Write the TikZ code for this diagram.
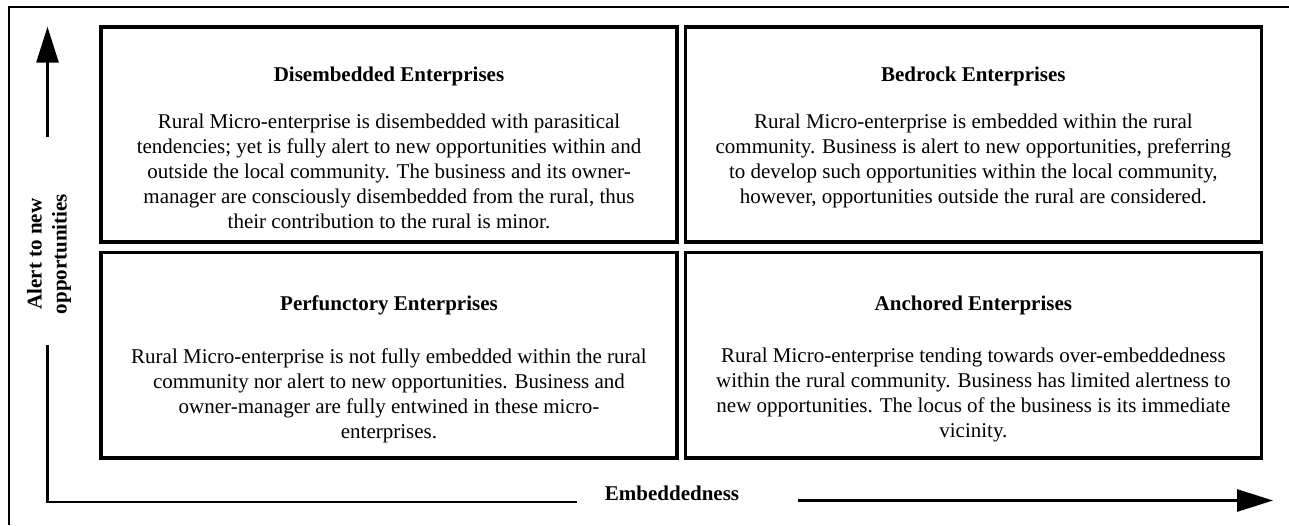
\documentclass[tikz,border=0pt]{standalone}
\usepackage{fontspec}
\setmainfont{Liberation Serif}
\usetikzlibrary{arrows.meta,positioning,calc}

\begin{document}
\begin{tikzpicture}[x=1pt, y=-1pt, >={Triangle[length=36pt,width=22pt]}]
\tikzstyle{quad}=[draw, line width=3.6pt, minimum width=576pt, inner sep=0pt]
\tikzstyle{heading}=[inner sep=0pt, font=\fontsize{21}{25}\selectfont\bfseries]
\tikzstyle{blurb}=[inner sep=0pt, align=center, font=\fontsize{21}{25}\selectfont]
\tikzstyle{axis}=[line width=2.8pt]
\tikzstyle{axislabel}=[inner sep=0pt, align=center, font=\fontsize{21}{25}\selectfont\bfseries]
\useasboundingbox (0,0) rectangle (1289,525);
% frame, cut off at the right and bottom
\draw[line width=2.4pt] (8.7,525) |- (1289,7);

% the four quadrants
\node[quad, minimum height=214.7pt] (dis) at (389,134.35) {};
\node[quad, minimum height=214.7pt] (bed) at (973.35,134.35) {};
\node[quad, minimum height=205.7pt] (per) at (389,355.15) {};
\node[quad, minimum height=205.7pt] (anc) at (973.35,355.15) {};

\node[heading, anchor=base] (dishead) at ([yshift=-56pt]dis.north) {Disembedded Enterprises};
\node[blurb, below=28pt of dishead] (distext) {Rural Micro-enterprise is disembedded with parasitical\\tendencies; yet is fully alert to new opportunities within and\\outside the local community. The business and its owner-\\manager are consciously disembedded from the rural, thus\\their contribution to the rural is minor.};

\node[heading, anchor=base] (bedhead) at ([yshift=-56pt]bed.north) {Bedrock Enterprises};
\node[blurb, below=28pt of bedhead] (bedtext) {Rural Micro-enterprise is embedded within the rural\\community. Business is alert to new opportunities, preferring\\to develop such opportunities within the local community,\\however, opportunities outside the rural are considered.};

\node[heading, anchor=base] (perhead) at ([yshift=-60pt]per.north) {Perfunctory Enterprises};
\node[blurb, below=33pt of perhead] (pertext) {Rural Micro-enterprise is not fully embedded within the rural\\community nor alert to new opportunities. Business and\\owner-manager are fully entwined in these micro-\\enterprises.};

\node[heading, anchor=base] (anchead) at ([yshift=-60pt]anc.north) {Anchored Enterprises};
\node[blurb, below=33pt of anchead] (anctext) {Rural Micro-enterprise tending towards over-embeddedness\\within the rural community. Business has limited alertness to\\new opportunities. The locus of the business is its immediate\\vicinity.};

% axes
\coordinate (origin) at (47.5,502);
\coordinate (ytip) at (47.5,26.7);
\coordinate (ygap) at (47.5,137);
\coordinate (ylow) at (47.5,345);
\coordinate (xgap) at (577,502);
\coordinate (xhigh) at (798,500.5);
\coordinate (xtip) at (1273,500.5);
\draw[axis, ->] (ygap) -- (ytip);
\draw[axis] (ylow) -- (origin) -- (xgap);
\draw[axis, ->] (xhigh) -- (xtip);
\node[axislabel, rotate=90] (alert) at (49,254) {Alert to new\\opportunities};
\node[axislabel, anchor=base] (embed) at (672,500) {Embeddedness};
\end{tikzpicture}
\end{document}
